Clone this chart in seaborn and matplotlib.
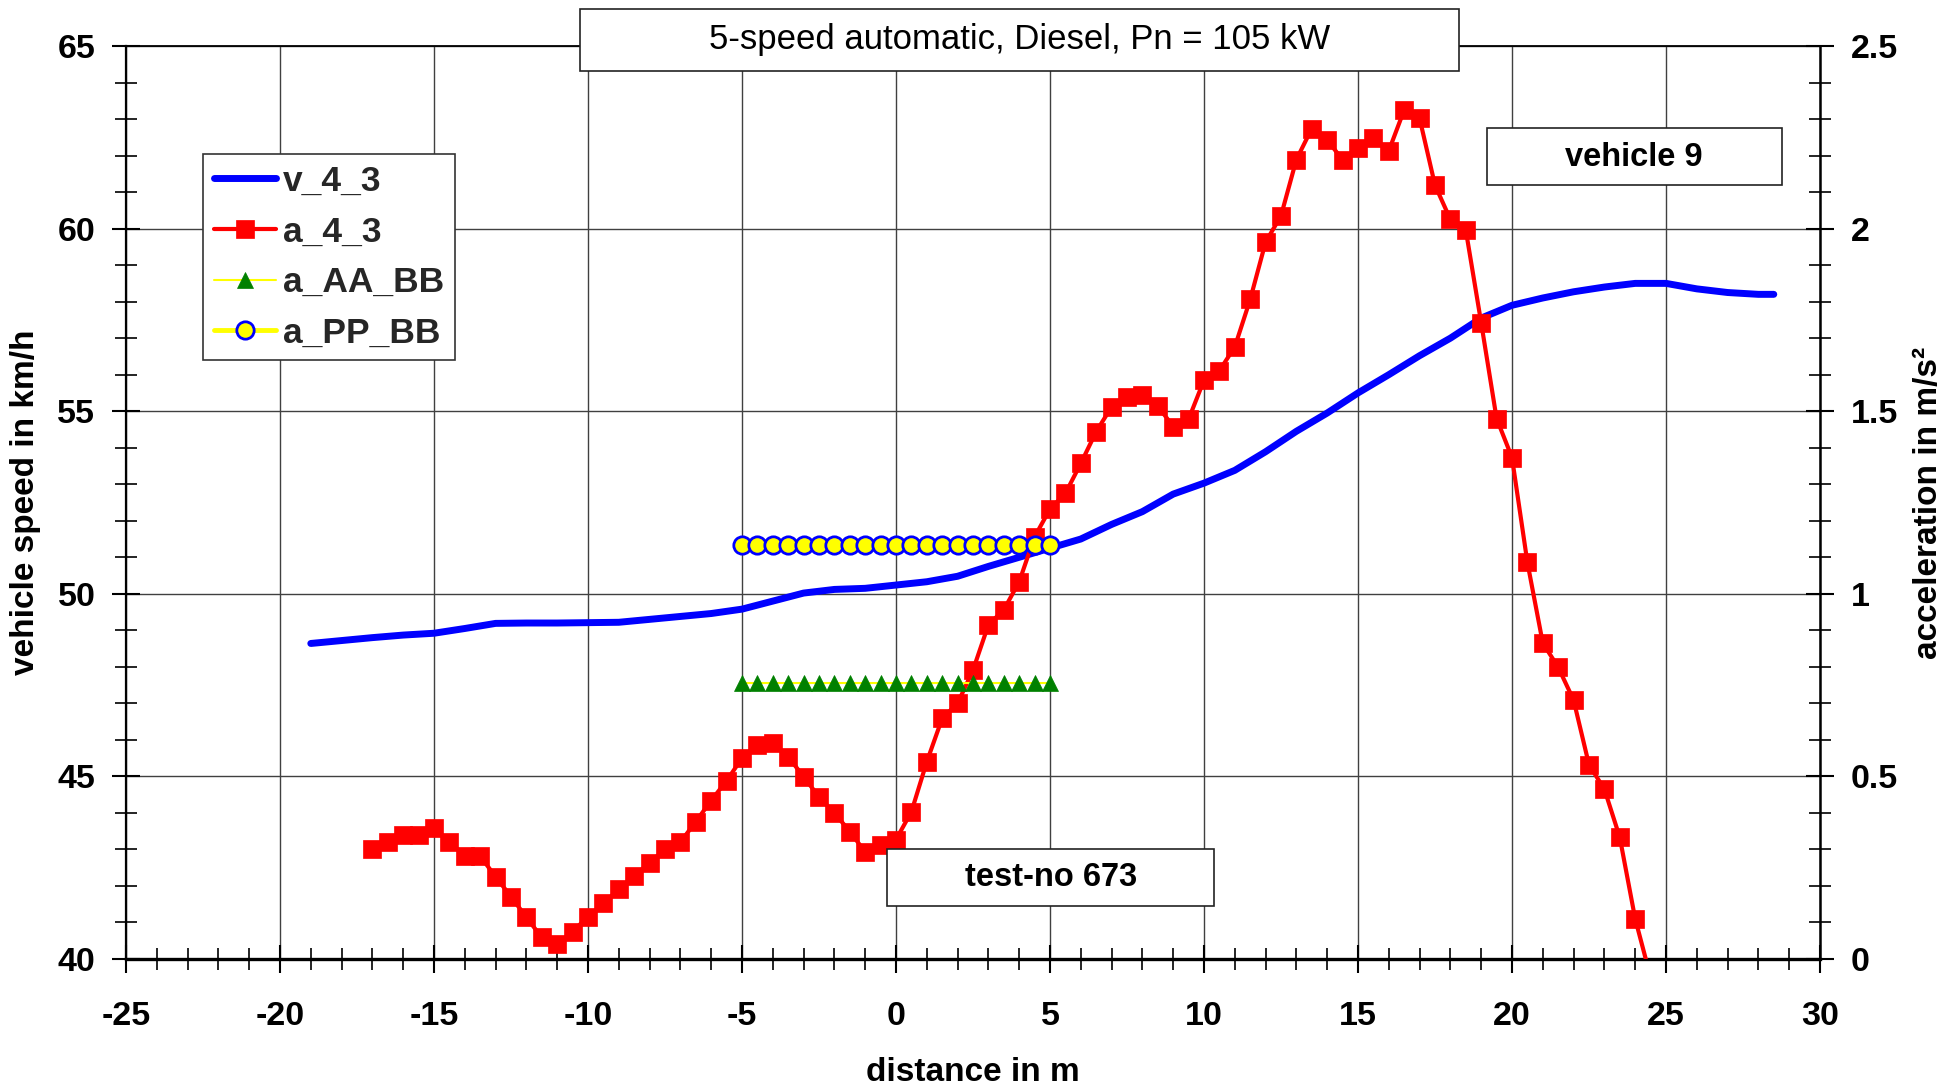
import numpy as np
import pandas as pd
import seaborn as sns
import matplotlib.pyplot as plt
from matplotlib.patches import Rectangle
from matplotlib.ticker import MultipleLocator, FuncFormatter

# vehicle speed v_4_3 (km/h) over distance (m)
v_dist = [-19, -18, -17, -16, -15, -14, -13, -12, -11, -10, -9, -8, -7, -6, -5, -4, -3,
          -2, -1, 0, 1, 2, 3, 4, 5, 6, 7, 8, 9, 10, 11, 12, 13, 14, 15, 16, 17, 18, 19,
          20, 21, 22, 23, 24, 25, 26, 27, 28, 28.5]
v_speed = [48.64, 48.72, 48.80, 48.87, 48.92, 49.05, 49.19, 49.20, 49.20, 49.21, 49.22,
           49.30, 49.38, 49.46, 49.58, 49.80, 50.02, 50.12, 50.15, 50.24, 50.33, 50.48,
           50.75, 51.00, 51.25, 51.50, 51.90, 52.25, 52.73, 53.03, 53.38, 53.89, 54.45,
           54.95, 55.50, 56.00, 56.52, 57.00, 57.55, 57.90, 58.10, 58.27, 58.40, 58.50,
           58.50, 58.35, 58.25, 58.20, 58.20]

# acceleration a_4_3 (m/s²)
a_dist = [-17, -16.5, -16, -15.5, -15, -14.5, -14, -13.5, -13, -12.5, -12, -11.5, -11,
          -10.5, -10, -9.5, -9, -8.5, -8, -7.5, -7, -6.5, -6, -5.5, -5, -4.5, -4, -3.5,
          -3, -2.5, -2, -1.5, -1, -0.5, 0, 0.5, 1, 1.5, 2, 2.5, 3, 3.5, 4, 4.5, 5, 5.5,
          6, 6.5, 7, 7.5, 8, 8.5, 9, 9.5, 10, 10.5, 11, 11.5, 12, 12.5, 13, 13.5, 14,
          14.5, 15, 15.5, 16, 16.5, 17, 17.5, 18, 18.5, 19, 19.5, 20, 20.5, 21, 21.5,
          22, 22.5, 23, 23.5, 24, 24.5]
a_acc = [0.300, 0.320, 0.340, 0.340, 0.358, 0.320, 0.283, 0.282, 0.225, 0.171, 0.114,
         0.059, 0.040, 0.075, 0.116, 0.152, 0.191, 0.227, 0.264, 0.300, 0.320, 0.376,
         0.434, 0.488, 0.550, 0.586, 0.591, 0.554, 0.499, 0.444, 0.400, 0.349, 0.293,
         0.312, 0.327, 0.403, 0.540, 0.659, 0.700, 0.791, 0.915, 0.956, 1.033, 1.156,
         1.232, 1.275, 1.357, 1.444, 1.512, 1.540, 1.544, 1.514, 1.458, 1.478, 1.585,
         1.611, 1.676, 1.806, 1.963, 2.035, 2.189, 2.274, 2.243, 2.188, 2.220, 2.247,
         2.213, 2.325, 2.302, 2.119, 2.025, 1.996, 1.742, 1.480, 1.373, 1.086, 0.865,
         0.799, 0.709, 0.532, 0.465, 0.333, 0.110, -0.050]

# reference levels between -5 m and 5 m
ref_dist = [-5, -4.5, -4, -3.5, -3, -2.5, -2, -1.5, -1, -0.5, 0, 0.5, 1, 1.5, 2, 2.5,
            3, 3.5, 4, 4.5, 5]
aa_bb = [0.757, 0.757, 0.757, 0.757, 0.757, 0.757, 0.757, 0.757, 0.757, 0.757, 0.757,
         0.757, 0.757, 0.757, 0.757, 0.757, 0.757, 0.757, 0.757, 0.757, 0.757]
pp_bb = [1.134, 1.134, 1.134, 1.134, 1.134, 1.134, 1.134, 1.134, 1.134, 1.134, 1.134,
         1.134, 1.134, 1.134, 1.134, 1.134, 1.134, 1.134, 1.134, 1.134, 1.134]

sns.set_theme(style='ticks')
plt.rcParams['font.family'] = ['Liberation Sans', 'DejaVu Sans']
plt.rcParams['font.weight'] = 'bold'
plt.rcParams['axes.unicode_minus'] = False

fig = plt.figure(figsize=(19.57, 10.86), dpi=100)
ax1 = fig.add_axes([0.06438, 0.11694, 0.86561, 0.84070])
ax2 = ax1.twinx()

df_v = pd.DataFrame({'dist': v_dist, 'speed': v_speed})
df_a = pd.DataFrame({'dist': a_dist, 'acc': a_acc})
df_ref = pd.DataFrame({'dist': ref_dist, 'aa': aa_bb, 'pp': pp_bb})

sns.lineplot(data=df_v, x='dist', y='speed', ax=ax1, color='#0000ff', lw=5,
             solid_capstyle='round', label='v_4_3', legend=False, errorbar=None)

sns.lineplot(data=df_a, x='dist', y='acc', ax=ax2, color='#ff0000', lw=3,
             marker='s', ms=13, mfc='#ff0000', mec='#ff0000', mew=0.5,
             label='a_4_3', legend=False, errorbar=None)
sns.lineplot(data=df_ref, x='dist', y='aa', ax=ax2, color='#ffff00', lw=1.5,
             marker='^', ms=12, mfc='#008000', mec='#008000', mew=0.5,
             label='a_AA_BB', legend=False, errorbar=None)
sns.lineplot(data=df_ref, x='dist', y='pp', ax=ax2, color='#ffff00', lw=3.5,
             marker='o', ms=12.5, mfc='#ffff00', mec='#0000ff', mew=2,
             label='a_PP_BB', legend=False, errorbar=None)

ax1.set_xlim(-25, 30)
ax1.set_ylim(40, 65)
ax2.set_ylim(0, 2.5)

ax1.xaxis.set_major_locator(MultipleLocator(5))
ax1.xaxis.set_minor_locator(MultipleLocator(1))
ax1.yaxis.set_major_locator(MultipleLocator(5))
ax1.yaxis.set_minor_locator(MultipleLocator(1))
ax2.yaxis.set_major_locator(MultipleLocator(0.5))
ax2.yaxis.set_minor_locator(MultipleLocator(0.1))
ax2.yaxis.set_major_formatter(FuncFormatter(lambda v, p: f'{v:g}'))

ax1.grid(True, which='major', color='#404040', lw=1.0)
ax1.set_axisbelow(True)

ax1.tick_params(which='major', direction='inout', length=20, width=1.5, color='black',
                labelsize=24.5, pad=12, bottom=True, left=True, labelcolor='black')
ax1.tick_params(axis='x', which='major', pad=20)
ax1.tick_params(which='minor', direction='inout', length=16, width=1.2, color='black',
                bottom=True, left=True)
ax2.tick_params(which='major', direction='inout', length=20, width=1.5, color='black',
                labelsize=24.5, pad=12, right=True, labelcolor='black')
ax2.tick_params(which='minor', direction='inout', length=16, width=1.2, color='black',
                right=True)

for s in ['top', 'bottom', 'left', 'right']:
    ax1.spines[s].set_color('black')
ax1.spines['bottom'].set_linewidth(2.4)
ax1.spines['left'].set_linewidth(1.6)
ax1.spines['top'].set_linewidth(1.3)
ax1.spines['right'].set_visible(False)
for s in ['top', 'bottom', 'left']:
    ax2.spines[s].set_visible(False)
ax2.spines['right'].set_color('black')
ax2.spines['right'].set_linewidth(1.8)

ax1.set_xlabel('distance in m', fontsize=24, fontweight='bold', labelpad=18, color='black')
ax1.set_ylabel('vehicle speed in km/h', fontsize=24, fontweight='bold', labelpad=12, color='black')
ax2.set_ylabel('acceleration in m/s²', fontsize=24, fontweight='bold', labelpad=11, color='black')

h1, l1 = ax1.get_legend_handles_labels()
h2, l2 = ax2.get_legend_handles_labels()
leg = ax2.legend(h1 + h2, l1 + l2, loc='upper left', bbox_to_anchor=(0.0455, 0.8817),
                 borderaxespad=0, frameon=True, fancybox=False, edgecolor='#333333',
                 framealpha=1, prop={'weight': 'bold', 'size': 25.5}, handlelength=1.75,
                 handletextpad=0.2, labelspacing=0.5, borderpad=0.3)
leg.get_frame().set_linewidth(1.2)

# text boxes (figure fractions)
boxes = [
    ((0.2964, 0.9346, 0.4492, 0.0571), (0.5212, 0.9632), '5-speed automatic, Diesel, Pn = 105 kW', 25, 'normal'),
    ((0.7598, 0.8297, 0.1507, 0.0525), (0.8350, 0.8554), 'vehicle 9', 23.5, 'bold'),
    ((0.4532, 0.1657, 0.1671, 0.0525), (0.5370, 0.1924), 'test-no 673', 23.5, 'bold'),
]
for (x0, y0, w, h), (tx, ty), txt, fs, fw in boxes:
    fig.add_artist(Rectangle((x0, y0), w, h, transform=fig.transFigure, facecolor='white',
                             edgecolor='#222222', lw=1.2, zorder=5))
    fig.text(tx, ty, txt, ha='center', va='center', fontsize=fs, fontweight=fw,
             color='black', zorder=6)

fig.savefig('out.png', dpi=100)
